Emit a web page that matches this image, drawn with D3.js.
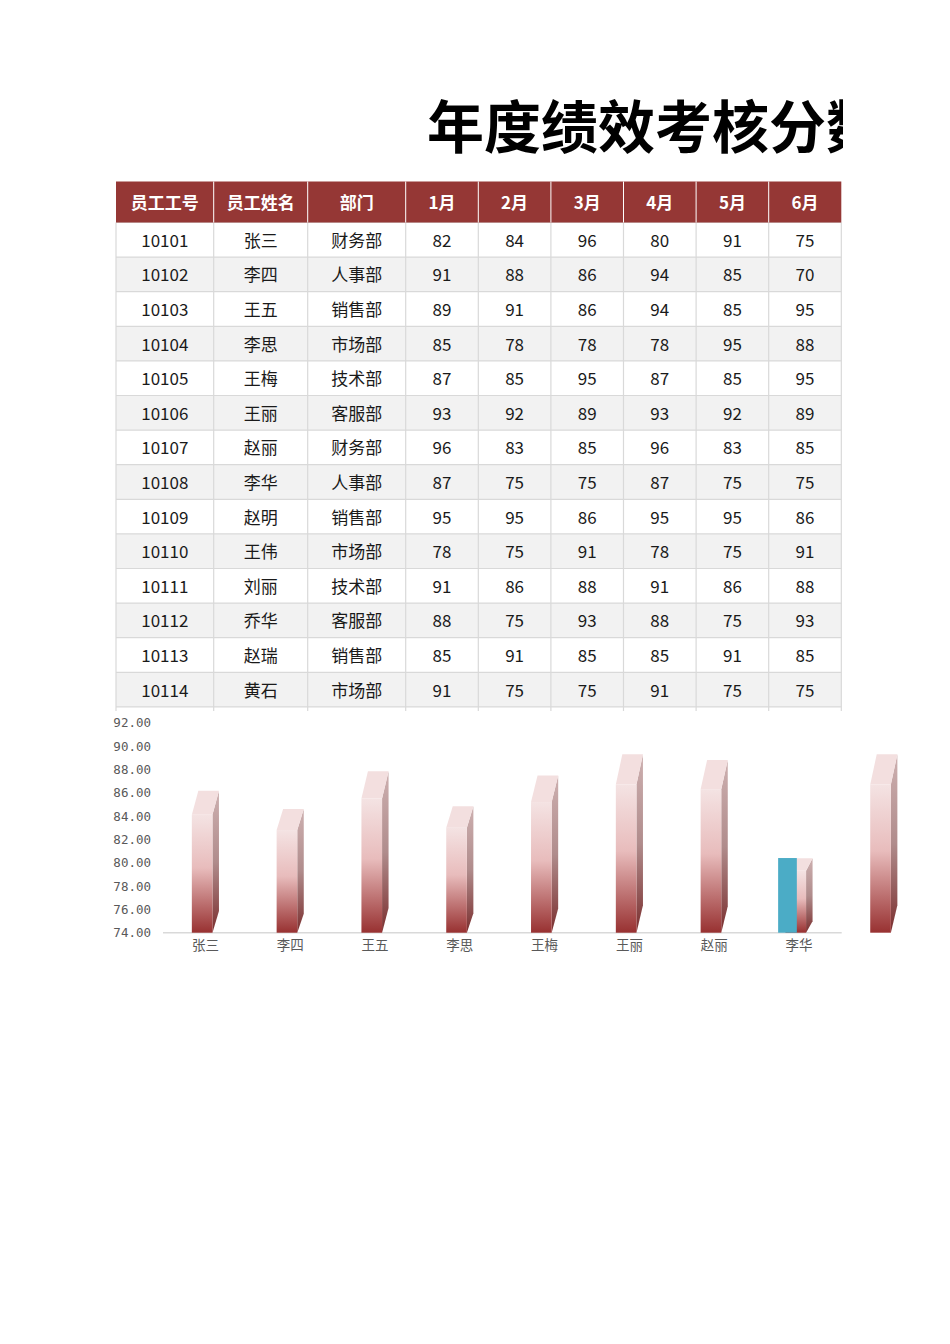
<!DOCTYPE html>
<html>
<head>
<meta charset="utf-8">
<script src="https://cdn.jsdelivr.net/npm/d3@7"></script>
<style>
  html, body { margin: 0; padding: 0; background: #fff; }
  #root { width: 950px; height: 1344px; }
</style>
</head>
<body>
<div id="root"></div>
<script>
// table data
const title = '年度绩效考核分数表'
const headers = ['员工工号', '员工姓名', '部门', '1月', '2月', '3月', '4月', '5月', '6月']
const ids = ['10101', '10102', '10103', '10104', '10105', '10106', '10107',
  '10108', '10109', '10110', '10111', '10112', '10113', '10114']
const names = ['张三', '李四', '王五', '李思', '王梅', '王丽', '赵丽',
  '李华', '赵明', '王伟', '刘丽', '乔华', '赵瑞', '黄石']
const depts = ['财务部', '人事部', '销售部', '市场部', '技术部', '客服部', '财务部',
  '人事部', '销售部', '市场部', '技术部', '客服部', '销售部', '市场部']
const scores = [
  [82, 84, 96, 80, 91, 75],
  [91, 88, 86, 94, 85, 70],
  [89, 91, 86, 94, 85, 95],
  [85, 78, 78, 78, 95, 88],
  [87, 85, 95, 87, 85, 95],
  [93, 92, 89, 93, 92, 89],
  [96, 83, 85, 96, 83, 85],
  [87, 75, 75, 87, 75, 75],
  [95, 95, 86, 95, 95, 86],
  [78, 75, 91, 78, 75, 91],
  [91, 86, 88, 91, 86, 88],
  [88, 75, 93, 88, 75, 93],
  [85, 91, 85, 85, 91, 85],
  [91, 75, 75, 91, 75, 75]
]

// chart data
const chartNames = ['张三', '李四', '王五', '李思', '王梅', '王丽', '赵丽', '李华', '赵明']
const chartValues = [84.1, 82.8, 85.5, 83.0, 85.2, 86.7, 86.3, 79.3, 86.7]
const highlightValues = [null, null, null, null, null, null, null, 80.4, null]
const yTicks = [74, 76, 78, 80, 82, 84, 86, 88, 90, 92]

const div = document.getElementById('root')
const svg = d3.select(div).append('svg')
  .attr('width', 950)
  .attr('height', 1344)

const cjk = '"Noto Sans CJK SC", "Noto Sans", sans-serif'
const defs = svg.append('defs')

// title, cut at the sheet edge
defs.append('clipPath').attr('id', 'titleClip')
  .append('rect').attr('x', 0).attr('y', 0).attr('width', 843).attr('height', 180)

svg.append('text')
  .attr('clip-path', 'url(#titleClip)')
  .attr('x', 427)
  .attr('y', 148)
  .attr('font-family', cjk)
  .attr('font-weight', 'bold')
  .attr('font-size', 57)
  .attr('fill', '#000')
  .text(title)

// ---- table ----
const colW = [97.7, 94, 98, 72.6, 72.6, 72.6, 72.6, 72.6, 72.6]
const colX = [116]
colW.forEach((w, i) => colX.push(colX[i] + w))
const headTop = 181.5
const headH = 41
const rowH = 34.6
const bodyTop = headTop + headH
const tableBottom = bodyTop + ids.length * rowH
const lineBottom = tableBottom + 4

const rows = ids.map((id, i) => [id, names[i], depts[i]].concat(scores[i]))

const table = svg.append('g')

table.selectAll('rect.row')
  .data(rows)
  .enter()
  .append('rect')
  .attr('class', 'row')
  .attr('x', colX[0])
  .attr('y', (d, i) => bodyTop + i * rowH)
  .attr('width', colX[colX.length - 1] - colX[0])
  .attr('height', rowH)
  .attr('fill', (d, i) => i % 2 === 1 ? '#f2f2f2' : '#ffffff')

// grid lines
table.selectAll('line.h')
  .data(d3.range(ids.length + 1))
  .enter()
  .append('line')
  .attr('x1', colX[0])
  .attr('x2', colX[colX.length - 1])
  .attr('y1', i => bodyTop + i * rowH)
  .attr('y2', i => bodyTop + i * rowH)
  .attr('stroke', '#d9d9d9')
  .attr('stroke-width', 1.2)

table.selectAll('line.v')
  .data(colX)
  .enter()
  .append('line')
  .attr('x1', d => d)
  .attr('x2', d => d)
  .attr('y1', bodyTop)
  .attr('y2', lineBottom)
  .attr('stroke', '#d9d9d9')
  .attr('stroke-width', 1.2)

// header
table.append('rect')
  .attr('x', colX[0])
  .attr('y', headTop)
  .attr('width', colX[colX.length - 1] - colX[0])
  .attr('height', headH)
  .attr('fill', '#953735')

table.selectAll('line.hv')
  .data(colX.slice(1, -1))
  .enter()
  .append('line')
  .attr('x1', d => d)
  .attr('x2', d => d)
  .attr('y1', headTop)
  .attr('y2', headTop + headH)
  .attr('stroke', '#ffffff')
  .attr('stroke-width', 1)

table.selectAll('text.head')
  .data(headers)
  .enter()
  .append('text')
  .attr('x', (d, i) => colX[i] + colW[i] / 2)
  .attr('y', headTop + headH / 2 + 1)
  .attr('dy', '0.35em')
  .attr('text-anchor', 'middle')
  .attr('font-family', cjk)
  .attr('font-weight', 'bold')
  .attr('font-size', 17)
  .attr('fill', '#ffffff')
  .text(d => d)

const cells = table.selectAll('g.cells')
  .data(rows)
  .enter()
  .append('g')
  .attr('transform', (d, i) => `translate(0,${bodyTop + i * rowH + rowH / 2})`)

cells.selectAll('text')
  .data(d => d)
  .enter()
  .append('text')
  .attr('x', (d, i) => colX[i] + colW[i] / 2)
  .attr('y', 1)
  .attr('dy', '0.35em')
  .attr('text-anchor', 'middle')
  .attr('font-family', cjk)
  .attr('font-size', 17)
  .attr('fill', '#1a1a1a')
  .text(d => d)

// ---- 3D column chart ----
const base = 932.7
const y = d3.scaleLinear().domain([74, 92]).range([base, 722.7])
const x = d3.scaleBand()
  .domain(chartNames)
  .range([163, 163 + chartNames.length * 84.8])
  .paddingInner(0.68)
  .paddingOuter(0.34)
const axisEnd = 841.7
const depth = 6.5
const frontW = x.bandwidth() - depth

const gFront = defs.append('linearGradient').attr('id', 'gFront')
  .attr('x1', 0).attr('y1', 0).attr('x2', 0).attr('y2', 1)
gFront.append('stop').attr('offset', '0%').attr('stop-color', '#f4e3e3')
gFront.append('stop').attr('offset', '45%').attr('stop-color', '#e8bcbc')
gFront.append('stop').attr('offset', '100%').attr('stop-color', '#983131')

const gSide = defs.append('linearGradient').attr('id', 'gSide')
  .attr('x1', 0).attr('y1', 0).attr('x2', 0).attr('y2', 1)
gSide.append('stop').attr('offset', '0%').attr('stop-color', '#cdb0b0')
gSide.append('stop').attr('offset', '50%').attr('stop-color', '#b08c8c')
gSide.append('stop').attr('offset', '100%').attr('stop-color', '#7a2e2e')

const chart = svg.append('g')

// y axis
const yAxis = chart.append('g')
  .attr('transform', 'translate(151,0)')
  .call(d3.axisLeft(y).tickValues(yTicks).tickFormat(d3.format('.2f')).tickSize(0).tickPadding(0))
yAxis.select('.domain').remove()
yAxis.selectAll('text')
  .attr('font-family', '"DejaVu Sans Mono", monospace')
  .attr('font-size', 12.5)
  .attr('fill', '#595959')

// x axis line and labels
chart.append('line')
  .attr('x1', 163)
  .attr('x2', axisEnd)
  .attr('y1', base)
  .attr('y2', base)
  .attr('stroke', '#d9d9d9')
  .attr('stroke-width', 1.5)

const xAxis = chart.append('g')
  .attr('transform', `translate(0,${base})`)
  .call(d3.axisBottom(x)
    .tickValues(chartNames.filter(n => x(n) + x.bandwidth() / 2 < axisEnd))
    .tickSize(0)
    .tickPadding(8))
xAxis.select('.domain').remove()
xAxis.selectAll('text')
  .attr('font-family', cjk)
  .attr('font-size', 13.5)
  .attr('fill', '#595959')

const bars = chart.selectAll('g.bar')
  .data(chartNames.map((n, i) => ({ name: n, value: chartValues[i], hl: highlightValues[i] })))
  .enter()
  .append('g')
  .attr('class', 'bar')

function geom (d) {
  const x0 = x(d.name)
  const x1 = x0 + frontW
  const yF = y(d.value)
  const h = base - yF
  const yB = base - h * 1.204
  const yBb = base - h * 0.185
  return { x0, x1, yF, yB, yBb }
}

// side face
bars.append('path')
  .attr('d', d => {
    const g = geom(d)
    return `M${g.x1},${g.yF}L${g.x1 + depth},${g.yB}L${g.x1 + depth},${g.yBb}L${g.x1},${base}Z`
  })
  .attr('fill', 'url(#gSide)')

// front face
bars.append('rect')
  .attr('x', d => geom(d).x0)
  .attr('y', d => geom(d).yF)
  .attr('width', frontW)
  .attr('height', d => base - geom(d).yF)
  .attr('fill', 'url(#gFront)')

// top face
bars.append('path')
  .attr('d', d => {
    const g = geom(d)
    return `M${g.x0},${g.yF}L${g.x0 + depth},${g.yB}L${g.x1 + depth},${g.yB}L${g.x1},${g.yF}Z`
  })
  .attr('fill', '#f3dfdf')

// flat blue marker
bars.filter(d => d.hl != null)
  .append('rect')
  .attr('x', d => geom(d).x0 - 7.3)
  .attr('y', d => y(d.hl))
  .attr('width', 18.7)
  .attr('height', d => base - y(d.hl))
  .attr('fill', '#4bacc6')
</script>
</body>
</html>
